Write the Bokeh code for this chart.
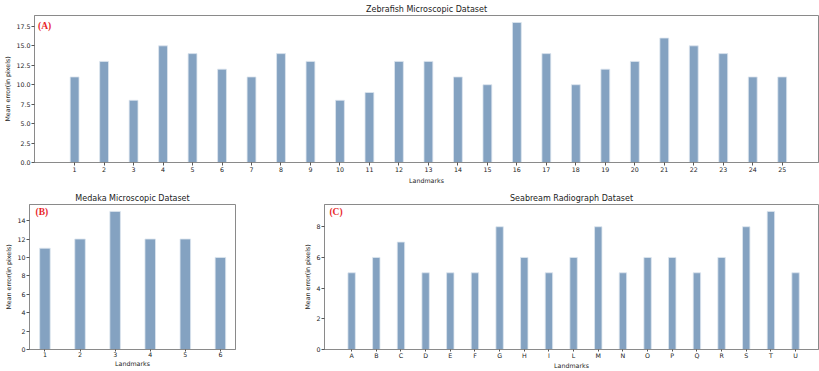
from bokeh.plotting import figure
from bokeh.layouts import column, row
from bokeh.models import FixedTicker, Label, Range1d, PrintfTickFormatter
from bokeh.embed import file_html
from bokeh.resources import INLINE

# ---- data ----
zebra_landmarks = list(range(1, 26))
zebra_errors = [11, 13, 8, 15, 14, 12, 11, 14, 13, 8, 9, 13, 13, 11, 10, 18, 14, 10, 12, 13, 16, 15, 14, 11, 11]

medaka_landmarks = [1, 2, 3, 4, 5, 6]
medaka_errors = [11, 12, 15, 12, 12, 10]

sea_labels = ["A", "B", "C", "D", "E", "F", "G", "H", "I", "L", "M", "N", "O", "P", "Q", "R", "S", "T", "U"]
sea_errors = [5, 6, 7, 5, 5, 5, 8, 6, 5, 6, 8, 5, 6, 6, 5, 6, 8, 9, 5]

zebra_yticks = [0, 2.5, 5, 7.5, 10, 12.5, 15, 17.5]
medaka_yticks = [0, 2, 4, 6, 8, 10, 12, 14]
sea_yticks = [0, 2, 4, 6, 8]

BAR = "#84a2c1"
FONT = "DejaVu Sans"
SPINE = "#8a8a8a"


def style(p, title):
    p.title.text = title
    p.title.text_font = FONT
    p.title.text_font_size = "8px"
    p.title.text_font_style = "normal"
    p.title.align = "center"
    p.title.text_color = "#222222"
    p.title.standoff = 3
    p.xgrid.visible = False
    p.ygrid.visible = False
    p.outline_line_color = SPINE
    p.outline_line_width = 1
    p.outline_line_alpha = 1
    for ax in (p.xaxis, p.yaxis):
        ax.axis_line_color = SPINE
        ax.major_tick_line_color = "#555555"
        ax.major_tick_out = 3
        ax.major_tick_in = 0
        ax.minor_tick_line_color = None
        ax.major_label_text_font = FONT
        ax.major_label_text_font_size = "6.3px"
        ax.major_label_text_color = "#222222"
        ax.major_label_standoff = 1
        ax.axis_label_text_font = FONT
        ax.axis_label_text_font_size = "6.3px"
        ax.axis_label_text_font_style = "normal"
        ax.axis_label_text_color = "#222222"
        ax.axis_label_standoff = 2
    p.xaxis.axis_label = "Landmarks"
    p.yaxis.axis_label = "Mean error(in pixels)"
    p.background_fill_color = "white"
    p.border_fill_color = "white"


def compact_x(p):
    p.xaxis.major_label_standoff = 0
    p.xaxis.axis_label_standoff = 0
    p.xaxis.major_tick_out = 2


def tag(p, text, x, y):
    p.add_layout(Label(x=x, y=y, text=text, text_font="Liberation Serif",
                       text_font_style="bold", text_font_size="9.5px",
                       text_color="#e8262a", text_baseline="top"))


# ---- (A) Zebrafish ----
p1 = figure(width=819, height=186, output_backend="svg", toolbar_location=None,
            x_range=Range1d(-0.36, 26.23), y_range=Range1d(0, 18.9),
            min_border_left=34, min_border_right=1, min_border_top=15, min_border_bottom=22)
p1.vbar(x=zebra_landmarks, top=zebra_errors, width=0.3, fill_color=BAR,
        line_color="#dde6ef", line_width=0.8)
style(p1, "Zebrafish Microscopic Dataset")
p1.xaxis.ticker = FixedTicker(ticks=zebra_landmarks)
p1.yaxis.ticker = FixedTicker(ticks=zebra_yticks)
p1.yaxis.formatter = PrintfTickFormatter(format="%.1f")
tag(p1, "(A)", -0.24, 18.2)

# ---- (B) Medaka ----
p2 = figure(width=300, height=185, output_backend="svg", toolbar_location=None,
            x_range=Range1d(0.56, 6.43), y_range=Range1d(0, 15.75),
            min_border_left=29, min_border_right=65, min_border_top=18, min_border_bottom=0)
p2.vbar(x=medaka_landmarks, top=medaka_errors, width=0.3, fill_color=BAR,
        line_color="#dde6ef", line_width=0.8)
style(p2, "Medaka Microscopic Dataset")
compact_x(p2)
p2.xaxis.ticker = FixedTicker(ticks=medaka_landmarks)
p2.yaxis.ticker = FixedTicker(ticks=medaka_yticks)
tag(p2, "(B)", 0.73, 15.5)

# ---- (C) Seabream ----
sea_x = list(range(len(sea_labels)))
p3 = figure(width=519, height=185, output_backend="svg", toolbar_location=None,
            x_range=Range1d(-1.1, 18.93), y_range=Range1d(0, 9.45),
            min_border_left=24, min_border_right=1, min_border_top=18, min_border_bottom=0)
p3.vbar(x=sea_x, top=sea_errors, width=0.3, fill_color=BAR,
        line_color="#dde6ef", line_width=0.8)
style(p3, "Seabream Radiograph Dataset")
compact_x(p3)
p3.xaxis.ticker = FixedTicker(ticks=sea_x)
p3.xaxis.major_label_overrides = {i: s for i, s in zip(sea_x, sea_labels)}
p3.yaxis.ticker = FixedTicker(ticks=sea_yticks)
tag(p3, "(C)", -0.9, 9.28)

layout = column(p1, row(p2, p3, spacing=0), spacing=0)

open("out.html", "w").write(file_html(layout, INLINE))
